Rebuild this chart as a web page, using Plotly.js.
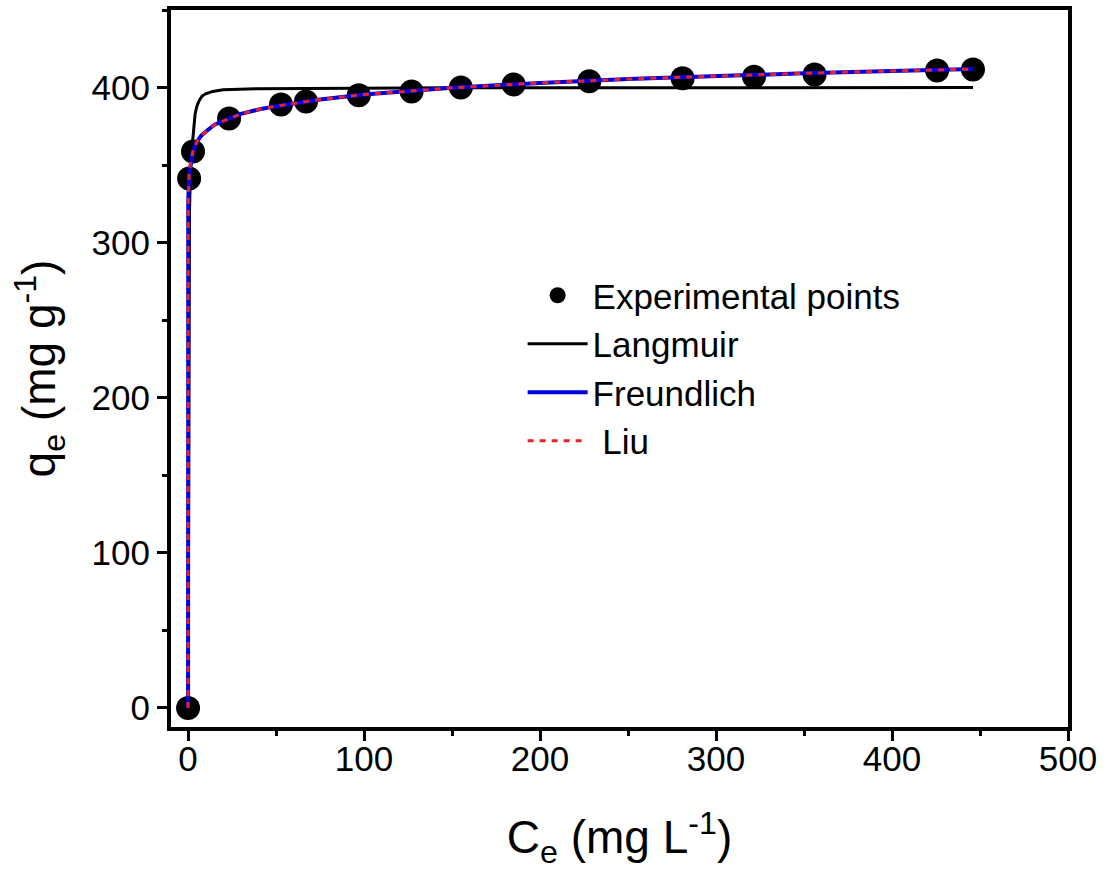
<!DOCTYPE html>
<html>
<head>
<meta charset="utf-8">
<script src="https://cdn.plot.ly/plotly-3.0.1.min.js"></script>
<style>html,body{margin:0;padding:0;background:#fff;}#chart{width:1110px;height:881px;}</style>
</head>
<body>
<div id="chart"></div>
<script>
const expCe = [0, 0.6, 2.8, 23.3, 52.8, 67, 97, 127, 155, 185, 228, 281, 321.6, 356, 425.6, 446];
const expQe = [0, 341.3, 358.7, 380, 389, 391, 395, 397.4, 400, 402, 404, 406, 407, 408.4, 411, 411.6];

// Langmuir fitted curve
const langCe = [0, 0.3, 0.8, 1.5, 2.5, 3.2, 4, 5, 6.5, 8, 10, 14, 20, 40, 80, 150, 250, 350, 446];
const langQe = [0, 240, 320, 352, 366, 376, 383, 388, 392, 394.5, 396, 397.5, 398.5, 399.3, 399.6, 399.8, 399.9, 400, 400];

// Freundlich fitted curve
const freuCe = [0, 0.001, 0.01, 0.1, 0.6, 1.5, 2.8, 5, 7.5, 10, 15, 23.3, 30, 40, 50, 75, 100, 150, 200, 250, 300, 350, 400, 446];
const freuQe = [0, 290, 308, 327, 344, 352, 359, 365, 369, 371.5, 376, 380, 383, 385.8, 388, 392.3, 395.5, 399.8, 403, 405.5, 407.5, 409.2, 410.7, 411.9];

// Liu fitted curve (overlaps Freundlich)
const liuCe = [0, 0.001, 0.01, 0.1, 0.6, 1.5, 2.8, 5, 7.5, 10, 15, 23.3, 30, 40, 50, 75, 100, 150, 200, 250, 300, 350, 400, 446];
const liuQe = [0, 290, 308, 327, 344, 352, 359, 365, 369, 371.5, 376, 380, 383, 385.8, 388, 392.3, 395.5, 399.8, 403, 405.5, 407.5, 409.2, 410.7, 411.9];

const seriesNames = ['Experimental points', 'Langmuir', 'Freundlich', ' Liu'];

const FONT = 'Arial, Liberation Sans, sans-serif';

const traces = [
  {x: expCe, y: expQe, mode: 'markers', type: 'scatter', name: seriesNames[0],
   marker: {color: '#000', size: 24}, legendrank: 1, legendgroup: 'a'},
  {x: langCe, y: langQe, mode: 'lines', type: 'scatter', name: seriesNames[1],
   line: {color: '#000', width: 3}, legendrank: 2, legendgroup: 'b'},
  {x: freuCe, y: freuQe, mode: 'lines', type: 'scatter', name: seriesNames[2],
   line: {color: '#0000e0', width: 4}, legendrank: 3, legendgroup: 'c'},
  {x: liuCe, y: liuQe, mode: 'lines', type: 'scatter', name: seriesNames[3],
   line: {color: '#e8222a', width: 3, dash: '6px,6px'}, legendrank: 4, legendgroup: 'd'}
];

const axisCommon = {
  showline: true, linecolor: '#000', linewidth: 4, mirror: true,
  ticks: 'outside', ticklen: 10, tickwidth: 3, tickcolor: '#000',
  showgrid: false, zeroline: false,
  tickfont: {family: FONT, size: 35, color: '#000'},
  minor: {dtick: 50, ticks: 'outside', ticklen: 5, tickwidth: 3, tickcolor: '#000', showgrid: false}
};

const layout = {
  width: 1110, height: 881,
  margin: {l: 171, r: 42, t: 10, b: 154},
  paper_bgcolor: '#fff', plot_bgcolor: '#fff',
  showlegend: true,
  legend: {x: 0.392, y: 0.643, xanchor: 'left', yanchor: 'top', bgcolor: 'rgba(0,0,0,0)',
    font: {family: FONT, size: 35, color: '#000'},
    tracegroupgap: 0, itemwidth: 60},
  xaxis: Object.assign({}, axisCommon, {
    range: [-9.7, 500], dtick: 100, tick0: 0, ticklabelstandoff: -12,
    title: {text: 'C<sub>e</sub> (mg L<sup>-1</sup>)', standoff: 45,
      font: {family: FONT, size: 46, color: '#000'}}
  }),
  yaxis: Object.assign({}, axisCommon, {
    range: [-12.3, 450], dtick: 100, tick0: 0,
    title: {text: 'q<sub>e</sub> (mg g<sup>-1</sup>)', standoff: 22,
      font: {family: FONT, size: 46, color: '#000'}}
  })
};

Plotly.newPlot('chart', traces, layout, {displayModeBar: false, staticPlot: true});
</script>
</body>
</html>
